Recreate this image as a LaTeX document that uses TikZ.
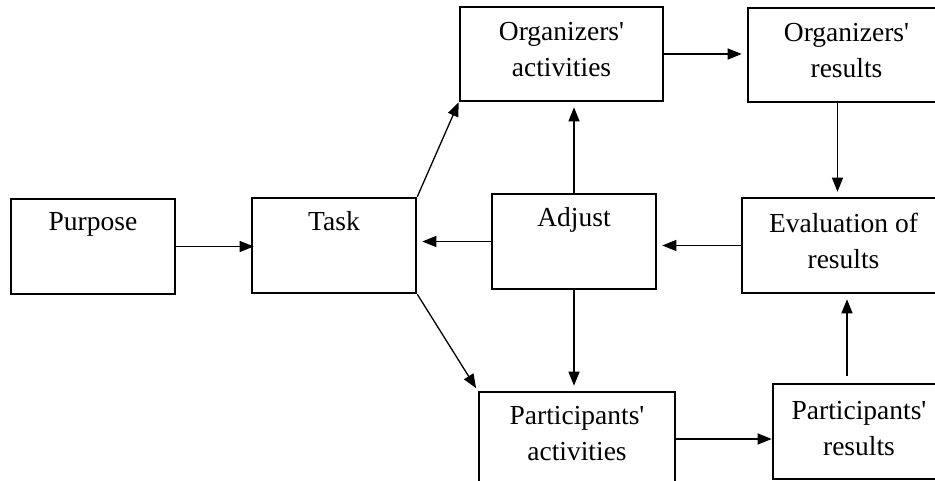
\documentclass[tikz,border=0pt]{standalone}
\usepackage{fontspec}
\setmainfont{Liberation Serif}
\usetikzlibrary{positioning, arrows.meta}

\begin{document}
\begin{tikzpicture}[x=1pt, y=-1pt,
    blk/.style={draw, line width=2.6pt, inner sep=0pt},
    txt/.style={font=\fontsize{27.5}{36}\selectfont, align=center, inner sep=0pt},
    arr/.style={line width=1.3pt, -{Triangle[length=14pt,width=11pt]}, shorten >=5pt}]
\clip (0,0) rectangle (935,481);
% boxes
\node[blk, minimum width=164pt, minimum height=95pt] (purpose) at (93,246.5) {};
\node[blk, minimum width=164pt, minimum height=95pt] (task) at (334,245.5) {};
\node[blk, minimum width=203pt, minimum height=94pt] (orgact) at (561.5,54) {};
\node[blk, minimum width=197pt, minimum height=94pt] (orgres) at (846.5,55) {};
\node[blk, minimum width=164pt, minimum height=95pt] (adjust) at (574,241.5) {};
\node[blk, minimum width=203pt, minimum height=95pt] (eval) at (843.5,245.5) {};
\node[blk, minimum width=196pt, minimum height=94pt] (partact) at (577,439) {};
\node[blk, minimum width=172pt, minimum height=95pt] (partres) at (859,431.5) {};
% texts
\node[txt, below=15pt of purpose.north] (purposetxt) {Purpose};
\node[txt, below=15pt of task.north] (tasktxt) {Task};
\node[txt, below=16pt of orgact.north] (orgacttxt) {Organizers\textquotesingle\\activities};
\node[txt, below=16pt of orgres.north] (orgrestxt) {Organizers\textquotesingle\\results};
\node[txt, below=15pt of adjust.north] (adjusttxt) {Adjust};
\node[txt, below=16pt of eval.north] (evaltxt) {Evaluation of\\results};
\node[txt, below=15pt of partact.north] (partacttxt) {Participants\textquotesingle\\activities};
\node[txt, below=18pt of partres.north] (partrestxt) {Participants\textquotesingle\\results};
% connectors
\draw[arr, shorten >=-3pt] (purpose.east) -- (purpose.east -| task.west);
\draw[arr, shorten >=0pt] (task.north east) -- (orgact.south west);
\draw[arr, shorten >=3pt] (task.south east) -- (partact.north west);
\draw[arr] (adjust.west) -- (adjust.west -| task.east);
\draw[arr] (adjust.north) -- (adjust.north |- orgact.south);
\draw[arr] (adjust.south) -- (adjust.south |- partact.north);
\draw[arr] (orgact.east) -- (orgact.east -| orgres.west);
\draw[arr] ([xshift=-9pt]orgres.south) -- ([xshift=-9pt]orgres.south |- eval.north);
\draw[arr] (eval.west) -- (eval.west -| adjust.east);
\draw[arr, shorten >=0pt] (partact.east) -- (partact.east -| partres.west);
\draw[arr, shorten <=7pt] ([xshift=-12pt]partres.north) -- ([xshift=-12pt]partres.north |- eval.south);
\end{tikzpicture}
\end{document}
